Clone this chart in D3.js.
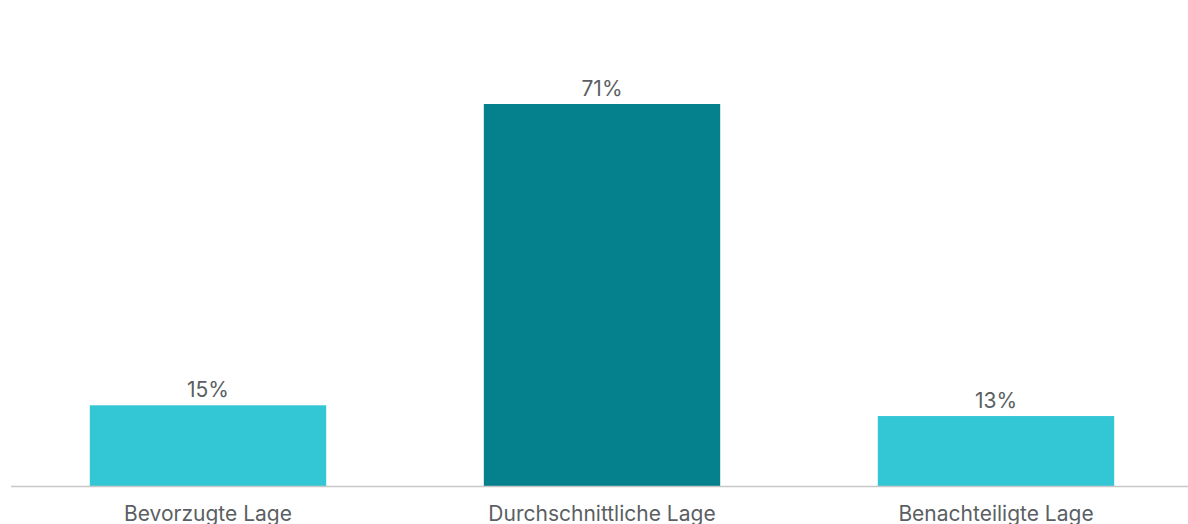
<!DOCTYPE html>
<html>
<head>
<meta charset="utf-8">
<script src="https://cdn.jsdelivr.net/npm/d3@7"></script>
<style>
  html, body { margin: 0; padding: 0; background: #ffffff; overflow: hidden; }
  svg { display: block; }
  text { font-family: Inter, "Liberation Sans", Arial, sans-serif; fill: #5b5f63; }
</style>
</head>
<body>
<svg id="chart" width="1188" height="524"></svg>
<script>
// Share of locations by category (percent)
const categories = ["Bevorzugte Lage", "Durchschnittliche Lage", "Benachteiligte Lage"];
const values = [15, 71, 13];
const valueLabels = ["15%", "71%", "13%"];
const barColors = ["#33c6d4", "#05818e", "#33c6d4"];

const svg = d3.select("#chart");
const baseline = 486;

const x = d3.scaleBand()
  .domain(categories)
  .range([11, 1193])
  .paddingInner(0.4)
  .paddingOuter(0.2);

const y = d3.scaleLinear()
  .domain([0, 71])
  .range([baseline, 104]);

// bars
svg.append("g")
  .selectAll("rect")
  .data(categories)
  .join("rect")
  .attr("x", d => x(d))
  .attr("y", (d, i) => y(values[i]))
  .attr("width", x.bandwidth())
  .attr("height", (d, i) => baseline - y(values[i]))
  .attr("fill", (d, i) => barColors[i]);

// value labels above bars
svg.append("g")
  .selectAll("text")
  .data(categories)
  .join("text")
  .attr("x", d => x(d) + x.bandwidth() / 2)
  .attr("y", (d, i) => y(values[i]) - 8)
  .attr("text-anchor", "middle")
  .style("font-size", "21px")
  .text((d, i) => valueLabels[i]);

// category axis
const axis = svg.append("g")
  .attr("transform", `translate(0,${baseline})`)
  .call(d3.axisBottom(x).tickSize(0).tickPadding(20));
axis.select(".domain")
  .attr("d", "M11,0.5H1188")
  .attr("stroke", "#c8c8c8")
  .attr("stroke-width", 1.5);
axis.selectAll("text")
  .style("font-size", "21px")
  .attr("fill", "#5b5f63")
  .attr("dy", "0.71em");
</script>
</body>
</html>
